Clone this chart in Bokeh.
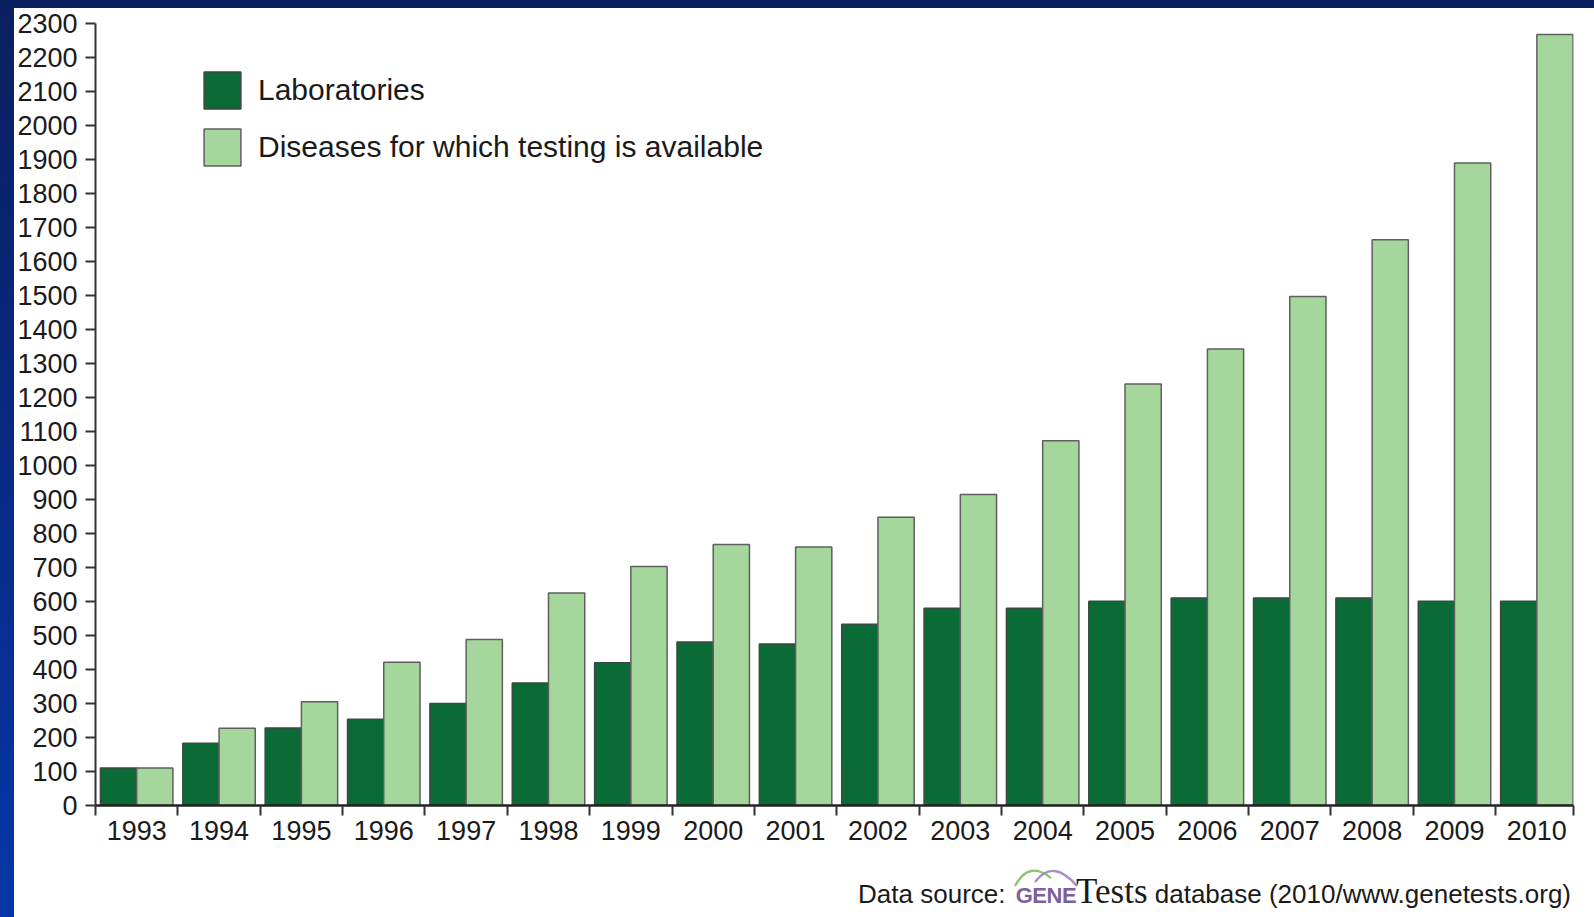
import numpy as np
from bokeh.plotting import figure
from bokeh.layouts import column
from bokeh.models import ColumnDataSource, Range1d, FixedTicker, Legend, LegendItem, Div
from bokeh.transform import dodge
from bokeh.embed import file_html
from bokeh.resources import INLINE

# ---- data ----
years = [str(y) for y in range(1993, 2011)]
laboratories = [110, 183, 228, 254, 300, 360, 420, 481, 475, 533, 580, 580, 601, 610, 610, 610, 601, 601]
diseases = [110, 227, 305, 421, 488, 625, 703, 768, 760, 848, 915, 1073, 1240, 1343, 1497, 1664, 1890, 2268]
y_ticks = list(range(0, 2301, 100))
series_names = ["Laboratories", "Diseases for which testing is available"]

idx = np.arange(len(years))
src = ColumnDataSource(dict(x=idx, years=years, labs=laboratories, dis=diseases))

DARK = "#0b6b36"
LIGHT = "#a5d79c"
FONT = "Liberation Sans"

p = figure(width=1580, height=849, output_backend="svg", toolbar_location=None,
           x_range=Range1d(-0.5, len(years) - 1 + 0.445), y_range=Range1d(0, 2300),
           min_border_left=79, min_border_right=21, min_border_top=15, min_border_bottom=52,
           background_fill_color="white", border_fill_color="white",
           styles={"background-color": "white"})
p.outline_line_color = None
p.xgrid.visible = False
p.ygrid.visible = False

bw = 0.44
r1 = p.vbar(x=dodge("x", -bw / 2, range=p.x_range), top="labs", width=bw, source=src,
            fill_color=DARK, line_color="#3a4a3e", line_width=1.5)
r2 = p.vbar(x=dodge("x", bw / 2, range=p.x_range), top="dis", width=bw, source=src,
            fill_color=LIGHT, line_color="#5f5f5f", line_width=1.5)

legend = Legend(items=[LegendItem(label=series_names[0], renderers=[r1]),
                       LegendItem(label=series_names[1], renderers=[r2])],
                location=(104, 635), orientation="vertical")
legend.glyph_width = 46
legend.glyph_height = 46
legend.label_height = 46
legend.spacing = 11
legend.padding = 0
legend.margin = 0
legend.border_line_color = None
legend.background_fill_alpha = 0
legend.label_text_font = FONT
legend.label_text_font_size = "30px"
legend.label_text_color = "#1a1a1a"
legend.label_standoff = 13
p.add_layout(legend)

# x axis: labels at category centres, tick marks at category boundaries
boundaries = [i - 0.5 for i in range(len(years))] + [len(years) - 1 + 0.44]
xa = p.xaxis[0]
xa.ticker = FixedTicker(ticks=[int(i) for i in idx], minor_ticks=boundaries)
xa.major_label_overrides = {int(i): y for i, y in zip(idx, years)}
xa.major_tick_line_color = None
xa.major_tick_out = 0
xa.major_tick_in = 0
xa.minor_tick_out = 10
xa.minor_tick_in = 0
xa.minor_tick_line_color = "#333333"
xa.minor_tick_line_width = 2
xa.axis_line_color = "#222222"
xa.axis_line_width = 2.5
xa.major_label_standoff = 5
xa.major_label_text_font = FONT
xa.major_label_text_font_size = "27px"
xa.major_label_text_color = "#1a1a1a"

ya = p.yaxis[0]
ya.ticker = FixedTicker(ticks=y_ticks)
ya.minor_tick_line_color = None
ya.major_tick_out = 10
ya.major_tick_in = 0
ya.major_tick_line_color = "#333333"
ya.major_tick_line_width = 2
ya.axis_line_color = "#333333"
ya.axis_line_width = 2
ya.major_label_standoff = 8
ya.major_label_text_font = FONT
ya.major_label_text_font_size = "27px"
ya.major_label_text_color = "#1a1a1a"

# data source note (with the GeneTests logo arcs)
logo_svg = ('<svg width="66" height="22" style="position:absolute;left:-3px;top:-16px;overflow:visible">'
            '<path d="M2,22 Q16,-4 38,14" stroke="#8cc474" stroke-width="2.4" fill="none"/>'
            '<path d="M22,18 Q40,-6 64,22" stroke="#a68fc2" stroke-width="2.4" fill="none"/>'
            '</svg>')
note_html = (
    '<div style="box-sizing:border-box;width:1580px;height:60px;padding:19px 23px 0 0;margin:0;'
    'text-align:right;font-family:\'Liberation Sans\';font-size:26px;line-height:32px;color:#1a1a1a;'
    'white-space:nowrap;background:white;">'
    'Data source: '
    '<span style="position:relative;display:inline-block;margin-left:3px;font-weight:bold;'
    'font-size:22px;color:#7d5f9e;letter-spacing:-0.5px;">' + logo_svg + 'GENE</span>'
    '<span style="font-family:\'Liberation Serif\';font-size:35px;">Tests</span>'
    ' database (2010/www.genetests.org)'
    '</div>'
)
note = Div(text=note_html, width=1580, height=60, margin=0,
           styles={"background-color": "white"})

layout = column(p, note, spacing=0, styles={"background-color": "white"})

html = file_html(layout, INLINE, title="Genetic testing")
pos = html.rfind("<body>")
if pos >= 0:
    html = (html[:pos]
            + '<body style="margin:0;padding:8px 0 0 14px;'
              'background:linear-gradient(to bottom,#0a1f5e,#0636a8);">'
            + html[pos + len("<body>"):])
open("out.html", "w").write(html)
